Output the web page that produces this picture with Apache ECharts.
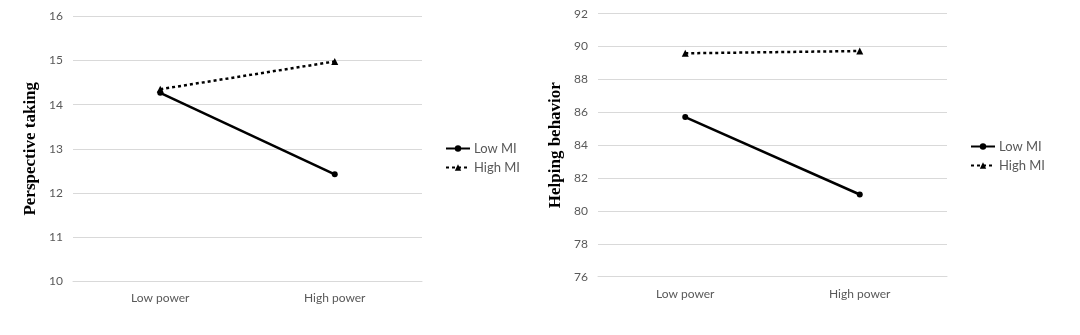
<!DOCTYPE html>
<html><head><meta charset="utf-8">
<script src="https://cdn.jsdelivr.net/npm/echarts@6/dist/echarts.min.js"></script>
<style>html,body{margin:0;padding:0;background:#fff}#c{width:1080px;height:335px}</style>
</head><body><div id="c"></div>
<script>
const categories = ['Low power', 'High power'];
const seriesNames = ['Low MI', 'High MI'];
const perspectiveLowMI = [14.27, 12.42];
const perspectiveHighMI = [14.35, 14.98];
const helpingLowMI = [85.71, 81.0];
const helpingHighMI = [89.59, 89.73];

const gray = '#595959';
const gridColor = '#d9d9d9';
const font = 'Lato, "Open Sans", sans-serif';

function xAx(gi) {
  return {
    type: 'category', gridIndex: gi, data: categories, boundaryGap: true,
    axisLine: {lineStyle: {color: gridColor}}, axisTick: {show: false},
    axisLabel: {color: gray, fontSize: 12, fontFamily: font, margin: 11}
  };
}
function yAx(gi, min, max, interval, name) {
  return {
    type: 'value', gridIndex: gi, min: min, max: max, interval: interval,
    name: name, nameLocation: 'middle', nameGap: 34,
    nameTextStyle: {fontFamily: '"Liberation Serif", "DejaVu Serif", serif', fontWeight: 'bold', fontSize: 17, color: '#000'},
    axisLine: {show: false}, axisTick: {show: false},
    axisLabel: {color: gray, fontSize: 12, fontFamily: font, margin: 10},
    splitLine: {lineStyle: {color: gridColor, width: 1}}
  };
}
function solid(gi, data) {
  return {
    name: seriesNames[0], type: 'line', xAxisIndex: gi, yAxisIndex: gi, data: data,
    symbol: 'circle', symbolSize: 6, color: '#000',
    lineStyle: {color: '#000', width: 2.5, type: 'solid'},
    itemStyle: {color: '#000'}, animation: false
  };
}
function dotted(gi, data) {
  return {
    name: seriesNames[1], type: 'line', xAxisIndex: gi, yAxisIndex: gi, data: data,
    symbol: 'triangle', symbolSize: 7, color: '#000',
    lineStyle: {color: '#000', width: 2.5, type: [3, 3]},
    itemStyle: {color: '#000'}, animation: false
  };
}
function legend(left, top) {
  return {
    orient: 'vertical', left: left, top: top, itemWidth: 24, itemHeight: 8, itemGap: 6,
    data: seriesNames,
    textStyle: {color: gray, fontSize: 13, fontFamily: font, padding: [0, 0, 0, -1]}
  };
}

const chart = echarts.init(document.getElementById('c'), null, {renderer: 'canvas'});
chart.setOption({
  backgroundColor: '#fff',
  animation: false,
  grid: [
    {left: 73, top: 16.5, width: 349, height: 264.5},
    {left: 598, top: 13.7, width: 349, height: 263}
  ],
  legend: [legend(440, 137), legend(965, 135)],
  xAxis: [xAx(0), xAx(1)],
  yAxis: [yAx(0, 10, 16, 1, 'Perspective taking'), yAx(1, 76, 92, 2, 'Helping behavior')],
  series: [
    solid(0, perspectiveLowMI), dotted(0, perspectiveHighMI),
    solid(1, helpingLowMI), dotted(1, helpingHighMI)
  ]
});
</script></body></html>
